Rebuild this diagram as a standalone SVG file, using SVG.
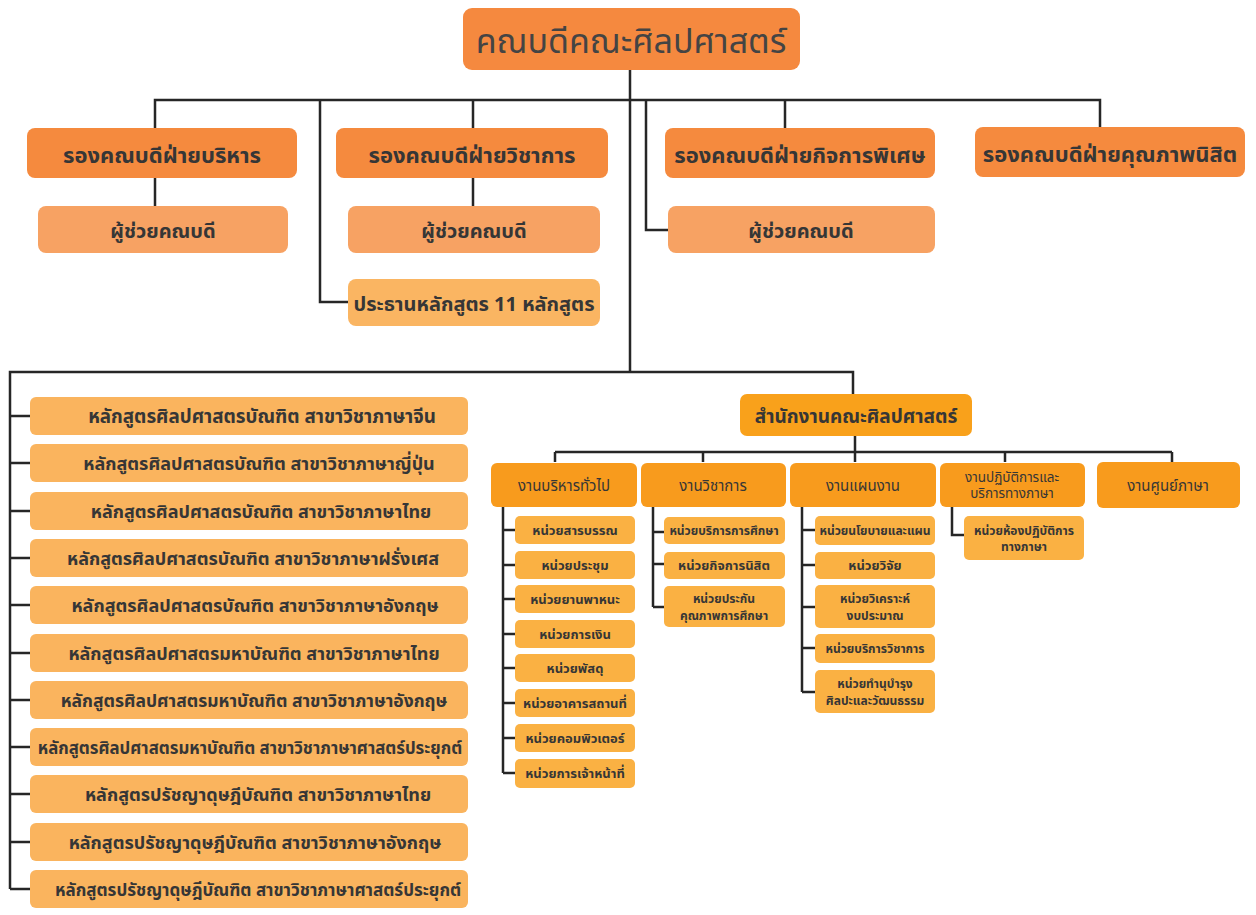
<svg xmlns="http://www.w3.org/2000/svg" width="1256" height="915" viewBox="0 0 1256 915">
<style>
text{font-family:"Noto Sans","Noto Sans Thai","DejaVu Sans",sans-serif;fill:#363636;text-anchor:middle;dominant-baseline:central}
.c{fill:none;stroke:#262626;stroke-width:2.5}
.top{fill:#F5893F}
.l1{fill:#F58A3E}
.l2{fill:#F7A263}
.pr{fill:#FAB562}
.cs{fill:#FAB45E}
.of{fill:#F9A11B}
.l3{fill:#F89B1D}
.l4{fill:#FAB143}
.t0{font-size:34px;fill:#444}
.t1{font-size:22px;font-weight:bold}
.t1b{font-size:20px;font-weight:bold}
.t2{font-size:18px;font-weight:bold}
.tp{font-size:20px;font-weight:bold}
.to{font-size:19px;font-weight:bold}
.t3{font-size:15px}
.t4{font-size:13px;font-weight:bold}
.t4s{font-size:12px;font-weight:bold}
</style>
<g id="connectors">
<path class="c" d="M630,70 V372"/>
<path class="c" d="M155,128 V100 H1100 V128 M473,100 V128 M785,100 V128"/>
<path class="c" d="M320,100 V302 H348"/>
<path class="c" d="M646,100 V230 H668"/>
<path class="c" d="M155,178 V206 M473,178 V206"/>
<path class="c" d="M10,889 V372 H853 V394"/>
<path class="c" d="M10,416 H30 M10,463 H30 M10,511 H30 M10,558 H30 M10,605 H30 M10,653 H30 M10,700 H30 M10,747 H30 M10,794 H30 M10,842 H30 M10,889 H30"/>
<path class="c" d="M855,436 V452 M555,452 H1172 M555,452 V462 M703,452 V462 M855,452 V462 M1005,452 V462 M1172,452 V462"/>
<path class="c" d="M503,507 V773 M503,530 H515 M503,565 H515 M503,599 H515 M503,634 H515 M503,668 H515 M503,703 H515 M503,738 H515 M503,773 H515"/>
<path class="c" d="M653,507 V607 M653,532 H664 M653,564 H664 M653,607 H664"/>
<path class="c" d="M802,507 V692 M802,530 H815 M802,565 H815 M802,607 H815 M802,648 H815 M802,692 H815"/>
<path class="c" d="M952,507 V535 H964"/>
</g>
<g id="dean"><rect class="top" x="463" y="8" width="337" height="62" rx="9"/><text class="t0" x="631" y="40">คณบดีคณะศิลปศาสตร์</text></g>
<g id="vp-admin"><rect class="l1" x="27" y="128" width="270" height="50" rx="8"/><text class="t1" x="162" y="154">รองคณบดีฝ่ายบริหาร</text></g>
<g id="vp-academic"><rect class="l1" x="336" y="128" width="272" height="50" rx="8"/><text class="t1" x="472" y="154">รองคณบดีฝ่ายวิชาการ</text></g>
<g id="vp-special"><rect class="l1" x="665" y="128" width="270" height="50" rx="8"/><text class="t1" x="800" y="154">รองคณบดีฝ่ายกิจการพิเศษ</text></g>
<g id="vp-quality"><rect class="l1" x="975" y="127" width="270" height="50" rx="8"/><text class="t1" x="1110" y="153">รองคณบดีฝ่ายคุณภาพนิสิต</text></g>
<g id="asst-1"><rect class="l2" x="38" y="206" width="250" height="47" rx="8"/><text class="t1b" x="163" y="230">ผู้ช่วยคณบดี</text></g>
<g id="asst-2"><rect class="l2" x="348" y="206" width="252" height="47" rx="8"/><text class="t1b" x="474" y="230">ผู้ช่วยคณบดี</text></g>
<g id="asst-3"><rect class="l2" x="668" y="206" width="267" height="47" rx="8"/><text class="t1b" x="801" y="230">ผู้ช่วยคณบดี</text></g>
<g id="chairs"><rect class="pr" x="348" y="279" width="252" height="47" rx="8"/><text class="tp" x="474" y="303">ประธานหลักสูตร 11 หลักสูตร</text></g>
<g id="office"><rect class="of" x="740" y="394" width="232" height="42" rx="7"/><text class="to" x="856" y="416">สำนักงานคณะศิลปศาสตร์</text></g>
<g id="course-1"><rect class="cs" x="30" y="397" width="438" height="38" rx="6"/><text class="t2" x="262" y="416" style="font-size:18.8px">หลักสูตรศิลปศาสตรบัณฑิต สาขาวิชาภาษาจีน</text></g>
<g id="course-2"><rect class="cs" x="30" y="444" width="438" height="38" rx="6"/><text class="t2" x="259" y="463">หลักสูตรศิลปศาสตรบัณฑิต สาขาวิชาภาษาญี่ปุ่น</text></g>
<g id="course-3"><rect class="cs" x="30" y="492" width="438" height="38" rx="6"/><text class="t2" x="261" y="511">หลักสูตรศิลปศาสตรบัณฑิต สาขาวิชาภาษาไทย</text></g>
<g id="course-4"><rect class="cs" x="30" y="539" width="438" height="38" rx="6"/><text class="t2" x="253" y="558">หลักสูตรศิลปศาสตรบัณฑิต สาขาวิชาภาษาฝรั่งเศส</text></g>
<g id="course-5"><rect class="cs" x="30" y="586" width="438" height="38" rx="6"/><text class="t2" x="255" y="605">หลักสูตรศิลปศาสตรบัณฑิต สาขาวิชาภาษาอังกฤษ</text></g>
<g id="course-6"><rect class="cs" x="30" y="634" width="438" height="38" rx="6"/><text class="t2" x="254" y="653">หลักสูตรศิลปศาสตรมหาบัณฑิต สาขาวิชาภาษาไทย</text></g>
<g id="course-7"><rect class="cs" x="30" y="681" width="438" height="38" rx="6"/><text class="t2" x="254" y="700" style="font-size:17.5px">หลักสูตรศิลปศาสตรมหาบัณฑิต สาขาวิชาภาษาอังกฤษ</text></g>
<g id="course-8"><rect class="cs" x="30" y="728" width="438" height="38" rx="6"/><text class="t2" x="250" y="747" style="font-size:16.8px">หลักสูตรศิลปศาสตรมหาบัณฑิต สาขาวิชาภาษาศาสตร์ประยุกต์</text></g>
<g id="course-9"><rect class="cs" x="30" y="775" width="438" height="38" rx="6"/><text class="t2" x="258" y="794">หลักสูตรปรัชญาดุษฎีบัณฑิต สาขาวิชาภาษาไทย</text></g>
<g id="course-10"><rect class="cs" x="30" y="823" width="438" height="38" rx="6"/><text class="t2" x="255" y="842">หลักสูตรปรัชญาดุษฎีบัณฑิต สาขาวิชาภาษาอังกฤษ</text></g>
<g id="course-11"><rect class="cs" x="30" y="870" width="438" height="38" rx="6"/><text class="t2" x="258" y="889" style="font-size:17px">หลักสูตรปรัชญาดุษฎีบัณฑิต สาขาวิชาภาษาศาสตร์ประยุกต์</text></g>
<g id="w-general"><rect class="l3" x="491" y="463" width="146" height="44" rx="6"/><text class="t3" x="564" y="485">งานบริหารทั่วไป</text></g>
<g id="w-academic"><rect class="l3" x="641" y="463" width="145" height="44" rx="6"/><text class="t3" x="713" y="485">งานวิชาการ</text></g>
<g id="w-plan"><rect class="l3" x="790" y="463" width="146" height="44" rx="6"/><text class="t3" x="863" y="485">งานแผนงาน</text></g>
<g id="w-lab"><rect class="l3" x="940" y="463" width="145" height="44" rx="6"/><text class="t3" style="font-size:13.5px"><tspan x="1012" y="477">งานปฏิบัติการและ</tspan><tspan x="1012" y="493">บริการทางภาษา</tspan></text></g>
<g id="w-center"><rect class="l3" x="1097" y="462" width="143" height="46" rx="6"/><text class="t3" x="1168" y="485">งานศูนย์ภาษา</text></g>
<g id="u-1"><rect class="l4" x="515" y="516" width="120" height="28" rx="5"/><text class="t4" x="575" y="530">หน่วยสารบรรณ</text></g>
<g id="u-2"><rect class="l4" x="515" y="551" width="120" height="28" rx="5"/><text class="t4" x="575" y="565">หน่วยประชุม</text></g>
<g id="u-3"><rect class="l4" x="515" y="585" width="120" height="28" rx="5"/><text class="t4" x="575" y="599">หน่วยยานพาหนะ</text></g>
<g id="u-4"><rect class="l4" x="515" y="620" width="120" height="28" rx="5"/><text class="t4" x="575" y="634">หน่วยการเงิน</text></g>
<g id="u-5"><rect class="l4" x="515" y="654" width="120" height="28" rx="5"/><text class="t4" x="575" y="668">หน่วยพัสดุ</text></g>
<g id="u-6"><rect class="l4" x="515" y="689" width="120" height="28" rx="5"/><text class="t4" x="575" y="703">หน่วยอาคารสถานที่</text></g>
<g id="u-7"><rect class="l4" x="515" y="724" width="120" height="28" rx="5"/><text class="t4" x="575" y="738">หน่วยคอมพิวเตอร์</text></g>
<g id="u-8"><rect class="l4" x="515" y="759" width="120" height="29" rx="5"/><text class="t4" x="575" y="773">หน่วยการเจ้าหน้าที่</text></g>
<g id="u-9"><rect class="l4" x="664" y="517" width="121" height="27" rx="5"/><text class="t4s" x="724" y="530">หน่วยบริการการศึกษา</text></g>
<g id="u-10"><rect class="l4" x="664" y="552" width="121" height="27" rx="5"/><text class="t4" x="724" y="565">หน่วยกิจการนิสิต</text></g>
<g id="u-11"><rect class="l4" x="664" y="586" width="121" height="41" rx="5"/><text class="t4s"><tspan x="724" y="598">หน่วยประกัน</tspan><tspan x="724" y="615">คุณภาพการศึกษา</tspan></text></g>
<g id="u-12"><rect class="l4" x="815" y="516" width="120" height="29" rx="5"/><text class="t4s" x="875" y="530">หน่วยนโยบายและแผน</text></g>
<g id="u-13"><rect class="l4" x="815" y="552" width="120" height="27" rx="5"/><text class="t4" x="875" y="565">หน่วยวิจัย</text></g>
<g id="u-14"><rect class="l4" x="815" y="585" width="120" height="43" rx="5"/><text class="t4s"><tspan x="875" y="598">หน่วยวิเคราะห์</tspan><tspan x="875" y="615">งบประมาณ</tspan></text></g>
<g id="u-15"><rect class="l4" x="815" y="634" width="120" height="29" rx="5"/><text class="t4s" x="875" y="648">หน่วยบริการวิชาการ</text></g>
<g id="u-16"><rect class="l4" x="815" y="670" width="120" height="43" rx="5"/><text class="t4s"><tspan x="875" y="683">หน่วยทำนุบำรุง</tspan><tspan x="875" y="700">ศิลปะและวัฒนธรรม</tspan></text></g>
<g id="u-17"><rect class="l4" x="964" y="516" width="120" height="44" rx="5"/><text class="t4s"><tspan x="1024" y="530">หน่วยห้องปฏิบัติการ</tspan><tspan x="1024" y="546">ทางภาษา</tspan></text></g>
</svg>
